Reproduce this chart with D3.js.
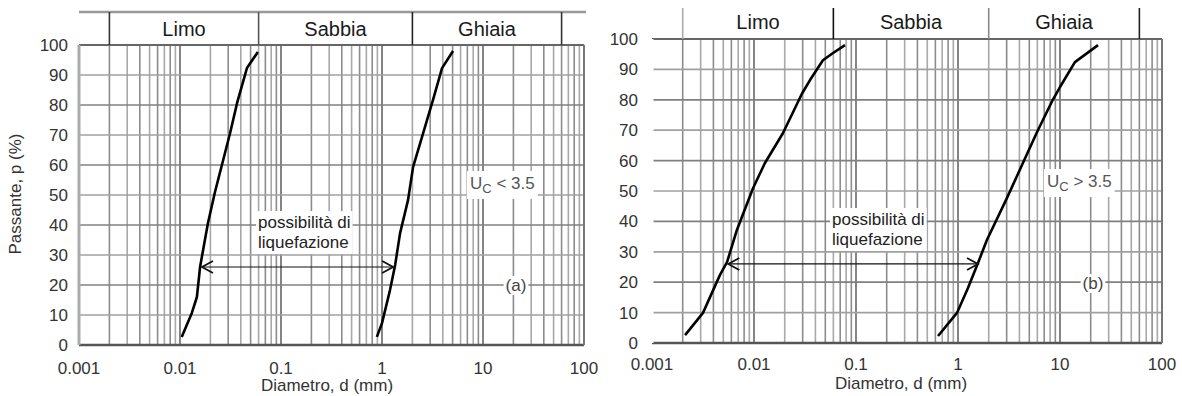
<!DOCTYPE html>
<html>
<head>
<meta charset="utf-8">
<script src="https://cdn.jsdelivr.net/npm/d3@7"></script>
<style>
body { margin: 0; background: #fff; }
text { font-family: "Liberation Sans", Arial, sans-serif; }
</style>
</head>
<body>
<div id="chart"></div>
<script>
// ticks
const xTicks = [0.001, 0.01, 0.1, 1, 10, 100];
const xTickLabels = ["0.001", "0.01", "0.1", "1", "10", "100"];
const yTicks = [0, 10, 20, 30, 40, 50, 60, 70, 80, 90, 100];

// classi granulometriche
const fractions = ["Limo", "Sabbia", "Ghiaia"];
const fractionBounds = [0.002, 0.06, 2, 60];

// (a) fusi per Uc < 3.5
const aFineDiam = [0.0104, 0.0131, 0.0147, 0.0158, 0.0189, 0.0222, 0.0313, 0.0367, 0.046, 0.059];
const aFinePass = [2.7, 10.7, 16, 26, 40.6, 51, 70.6, 80.6, 92.3, 97.7];
const aCoarseDiam = [0.89, 1.0, 1.2, 1.35, 1.51, 1.81, 2.03, 3.2, 3.93, 5.05];
const aCoarsePass = [2.7, 7.3, 18.3, 26.7, 37.3, 48.3, 59.3, 81.7, 92.3, 98];

// (b) fusi per Uc > 3.5
const bFineDiam = [0.00211, 0.00316, 0.00464, 0.00544, 0.0068, 0.0098, 0.0128, 0.0192, 0.0295, 0.0354, 0.0474, 0.0596, 0.078];
const bFinePass = [2.6, 9.9, 22.4, 26.6, 37.2, 51, 59.2, 69, 82, 86.5, 93, 95.4, 98];
const bCoarseDiam = [0.637, 0.977, 1.25, 1.57, 1.92, 3.0, 5.96, 8.5, 10, 14, 23.6];
const bCoarsePass = [2.3, 9.9, 18, 26.3, 33.9, 47.5, 69.4, 80, 84.2, 92.4, 98];

// freccia "possibilità di liquefazione"
const aArrowDiam = [0.0165, 1.29];
const bArrowDiam = [0.0056, 1.57];
const arrowPass = 26;

const W = 1182, H = 396;
const svg = d3.select("#chart").append("svg")
    .attr("width", W)
    .attr("height", H);

function panel(cfg) {
    const x = d3.scaleLog().domain([0.001, 100]).range([cfg.left, cfg.right]);
    const y = d3.scaleLinear().domain([0, 100]).range([cfg.bottom, cfg.top]);
    const g = svg.append("g");

    // griglia verticale (log)
    g.selectAll(".vg")
        .data(x.ticks())
        .enter()
        .append("line")
        .attr("x1", d => x(d)).attr("x2", d => x(d))
        .attr("y1", cfg.top).attr("y2", cfg.bottom)
        .attr("stroke", (d, i) => (i % 9 === 0) ? "#666" : (i % 2 ? "#8c8c8c" : "#a8a8a8"))
        .attr("stroke-width", 1.6);

    // griglia orizzontale
    g.selectAll(".hg")
        .data(yTicks)
        .enter()
        .append("line")
        .attr("x1", cfg.left).attr("x2", cfg.right)
        .attr("y1", d => y(d)).attr("y2", d => y(d))
        .attr("stroke", (d, i) => i % 2 ? "#a0a0a0" : "#808080")
        .attr("stroke-width", 1.7);

    // bordi
    g.append("line").attr("x1", cfg.left).attr("x2", cfg.right)
        .attr("y1", cfg.bottom).attr("y2", cfg.bottom)
        .attr("stroke", "#555").attr("stroke-width", 2.5);
    g.append("line").attr("x1", cfg.left).attr("x2", cfg.right)
        .attr("y1", cfg.top).attr("y2", cfg.top)
        .attr("stroke", "#666").attr("stroke-width", 2);
    g.append("line").attr("x1", cfg.right).attr("x2", cfg.right)
        .attr("y1", cfg.top).attr("y2", cfg.bottom)
        .attr("stroke", "#777").attr("stroke-width", 2);
    g.append("line").attr("x1", cfg.left).attr("x2", cfg.left)
        .attr("y1", cfg.top).attr("y2", cfg.bottom)
        .attr("stroke", cfg.leftColor).attr("stroke-width", 3);

    // fascia Limo / Sabbia / Ghiaia
    if (cfg.bandLine) {
        g.append("line").attr("x1", cfg.left).attr("x2", cfg.right + 2)
            .attr("y1", cfg.bandTop).attr("y2", cfg.bandTop)
            .attr("stroke", "#999").attr("stroke-width", 2.5);
    }
    g.selectAll(".bd")
        .data(fractionBounds)
        .enter()
        .append("line")
        .attr("x1", d => x(d)).attr("x2", d => x(d))
        .attr("y1", cfg.bandTop).attr("y2", cfg.top)
        .attr("stroke", (d, i) => cfg.bandColors[i])
        .attr("stroke-width", 1.6);
    g.selectAll(".bl")
        .data(fractions)
        .enter()
        .append("text")
        .attr("x", (d, i) => (x(fractionBounds[i]) + x(fractionBounds[i + 1])) / 2)
        .attr("y", cfg.bandBase)
        .attr("text-anchor", "middle")
        .attr("font-size", 20)
        .attr("fill", "#1a1a1a")
        .text(d => d);

    // etichette assi
    g.selectAll(".xt")
        .data(xTicks)
        .enter()
        .append("text")
        .attr("x", d => x(d))
        .attr("y", cfg.xTickBase)
        .attr("text-anchor", "middle")
        .attr("font-size", 17)
        .attr("fill", "#333")
        .text((d, i) => xTickLabels[i]);
    g.selectAll(".yt")
        .data(yTicks)
        .enter()
        .append("text")
        .attr("x", cfg.left - cfg.yTickGap)
        .attr("y", d => y(d) + 6)
        .attr("text-anchor", "end")
        .attr("font-size", 17)
        .attr("fill", "#333")
        .text(d => d);
    g.append("text")
        .attr("x", cfg.titleX)
        .attr("y", cfg.titleBase)
        .attr("text-anchor", "middle")
        .attr("font-size", 17)
        .attr("fill", "#333")
        .text("Diametro, d (mm)");

    // testi con fondo bianco
    function boxed(node, padX, padY) {
        const bb = node.getBBox();
        g.insert("rect", () => node)
            .attr("x", bb.x - padX).attr("y", bb.y - padY)
            .attr("width", bb.width + 2 * padX).attr("height", bb.height + 2 * padY)
            .attr("fill", "#fff");
    }

    const liq = g.append("text")
        .attr("font-size", 17)
        .attr("fill", "#222");
    liq.append("tspan").attr("x", cfg.liqX).attr("y", cfg.liqBase).text("possibilità di");
    liq.append("tspan").attr("x", cfg.liqX).attr("y", cfg.liqBase + 20).text("liquefazione");
    boxed(liq.node(), 2, 2);

    const uc = g.append("text")
        .attr("x", cfg.ucX)
        .attr("y", cfg.ucBase)
        .attr("font-size", 17)
        .attr("fill", "#555");
    uc.append("tspan").text("U");
    uc.append("tspan").attr("dy", 4).attr("font-size", 13).text("C");
    uc.append("tspan").attr("dy", -4).text(cfg.ucText);
    boxed(uc.node(), 3, 3);

    const tag = g.append("text")
        .attr("x", cfg.tagX)
        .attr("y", cfg.tagBase)
        .attr("text-anchor", "middle")
        .attr("font-size", 17)
        .attr("fill", "#444")
        .text(cfg.tag);
    boxed(tag.node(), 2, 0);

    // curve granulometriche
    const line = d3.line().x(d => x(d[0])).y(d => y(d[1]));
    cfg.curves.forEach(c => {
        g.append("path")
            .datum(d3.zip(c[0], c[1]))
            .attr("d", line)
            .attr("fill", "none")
            .attr("stroke", "#000")
            .attr("stroke-width", 2.6)
            .attr("stroke-linejoin", "round");
    });

    // freccia doppia
    const ax1 = x(cfg.arrow[0]), ax2 = x(cfg.arrow[1]), ay = y(arrowPass);
    g.append("line").attr("x1", ax1).attr("x2", ax2).attr("y1", ay).attr("y2", ay)
        .attr("stroke", "#111").attr("stroke-width", 1.2);
    g.append("polyline")
        .attr("points", [[ax1 + 11, ay - 6], [ax1, ay], [ax1 + 11, ay + 6]].join(" "))
        .attr("fill", "none").attr("stroke", "#111").attr("stroke-width", 1.8);
    g.append("polyline")
        .attr("points", [[ax2 - 11, ay - 6], [ax2, ay], [ax2 - 11, ay + 6]].join(" "))
        .attr("fill", "none").attr("stroke", "#111").attr("stroke-width", 1.8);

    return g;
}

panel({
    left: 79, right: 584, top: 45, bottom: 345,
    leftColor: "#aaa", bandLine: true, bandTop: 12, bandBase: 36,
    bandColors: ["#333", "#555", "#222", "#333"],
    xTickBase: 374, yTickGap: 11, titleX: 327, titleBase: 391,
    liqX: 258, liqBase: 228,
    ucX: 470, ucBase: 189, ucText: " < 3.5",
    tagX: 516, tagBase: 291, tag: "(a)",
    arrow: aArrowDiam,
    curves: [[aFineDiam, aFinePass], [aCoarseDiam, aCoarsePass]]
});

panel({
    left: 652, right: 1162, top: 39, bottom: 343,
    leftColor: "#fff", bandLine: false, bandTop: 8, bandBase: 29,
    bandColors: ["#aaa", "#111", "#888", "#222"],
    xTickBase: 370, yTickGap: 14, titleX: 901, titleBase: 389,
    liqX: 832, liqBase: 225,
    ucX: 1047, ucBase: 187, ucText: " > 3.5",
    tagX: 1093, tagBase: 289, tag: "(b)",
    arrow: bArrowDiam,
    curves: [[bFineDiam, bFinePass], [bCoarseDiam, bCoarsePass]]
});

// titolo asse y (solo pannello a)
svg.append("text")
    .attr("transform", "translate(21,194) rotate(-90)")
    .attr("text-anchor", "middle")
    .attr("font-size", 17)
    .attr("fill", "#333")
    .text("Passante, p (%)");
</script>
</body>
</html>
